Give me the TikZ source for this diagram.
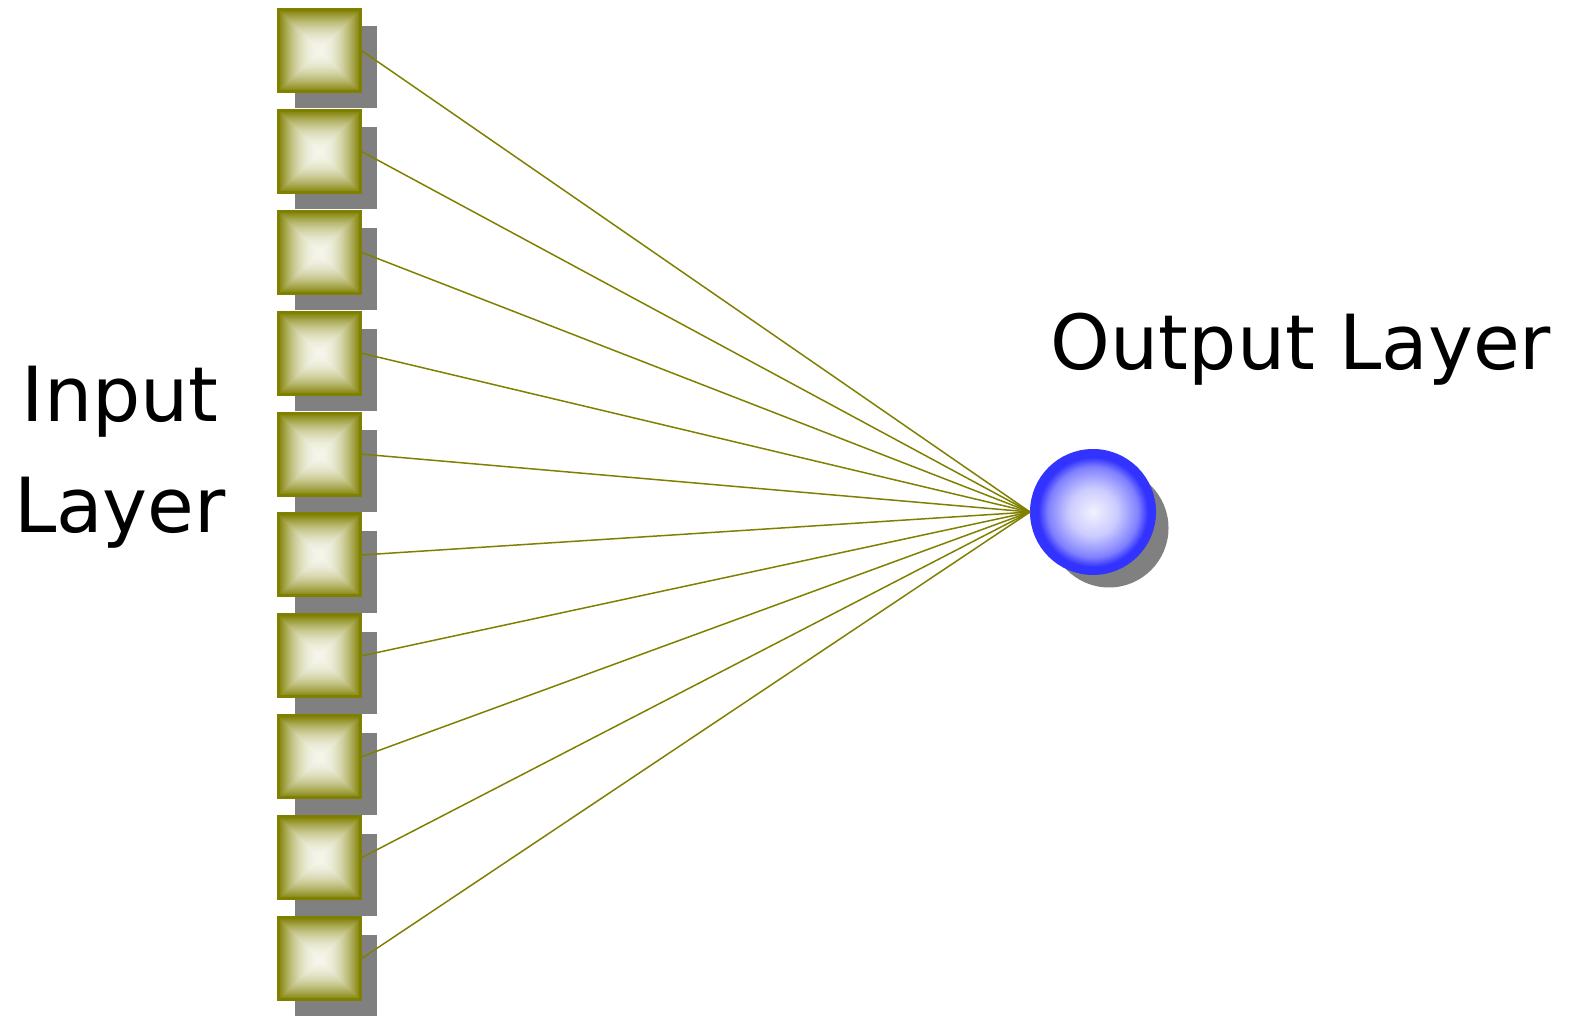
\documentclass[tikz,border=0pt]{standalone}
\usepackage{fontspec}
\setmainfont{DejaVu Sans}
\usetikzlibrary{shadows}

\definecolor{wireolive}{RGB}{128,128,0}
\definecolor{ballblue}{RGB}{51,51,255}
\definecolor{ballcore}{RGB}{242,242,255}
\definecolor{shadowgray}{RGB}{128,128,128}

% light centre fading out to olive towards all four sides
% (the path box is the inner +-25bp of the shading)
\pgfdeclarefunctionalshading{boxshade}{\pgfpoint{-50bp}{-50bp}}{\pgfpoint{50bp}{50bp}}{}{
  abs exch abs 2 copy gt {pop} {exch pop} ifelse
  25 div dup 1 gt {pop 1} if
  dup mul
  dup 0.46 mul neg 0.96 add exch
  dup 0.46 mul neg 0.96 add exch
  0.92 mul neg 0.92 add
}
\pgfdeclareradialshading{ballshade}{\pgfpoint{0bp}{0bp}}{color(0bp)=(ballcore); color(10bp)=(ballcore!80!ballblue); color(19bp)=(ballcore!40!ballblue); color(23bp)=(ballblue); color(50bp)=(ballblue)}

\tikzset{
  unit/.style={draw=wireolive, line width=3pt, minimum size=82pt, inner sep=0pt, shading=boxshade,
    drop shadow={shadow xshift=17pt, shadow yshift=-17pt, fill=shadowgray, opacity=1}},
  outunit/.style={circle, draw=ballblue, line width=7pt, minimum size=119pt, inner sep=0pt, shading=ballshade,
    drop shadow={shadow xshift=16pt, shadow yshift=-16pt, fill=shadowgray, opacity=1}},
  wire/.style={draw=wireolive, line width=1.5pt},
  lbl/.style={font=\fontsize{76}{111}\selectfont, inner sep=0pt}
}

\begin{document}
\begin{tikzpicture}[x=1pt,y=1pt]
\useasboundingbox (0,0) rectangle (1578,1015);

\node[unit] (in1) at (319,964.5) {};
\node[unit] (in2) at (319,863.6) {};
\node[unit] (in3) at (319,762.7) {};
\node[unit] (in4) at (319,661.8) {};
\node[unit] (in5) at (319,560.9) {};
\node[unit] (in6) at (319,460.0) {};
\node[unit] (in7) at (319,359.1) {};
\node[unit] (in8) at (319,258.2) {};
\node[unit] (in9) at (319,157.3) {};
\node[unit] (in10) at (319,56.4) {};

\node[outunit] (out) at (1093,503) {};

\draw[wire] (in1.east) -- (out.west);
\draw[wire] (in2.east) -- (out.west);
\draw[wire] (in3.east) -- (out.west);
\draw[wire] (in4.east) -- (out.west);
\draw[wire] (in5.east) -- (out.west);
\draw[wire] (in6.east) -- (out.west);
\draw[wire] (in7.east) -- (out.west);
\draw[wire] (in8.east) -- (out.west);
\draw[wire] (in9.east) -- (out.west);
\draw[wire] (in10.east) -- (out.west);

% base of a two-line node sits on its last line
\node[lbl, align=center, anchor=base] (inlabel) at (120,482) {Input\\Layer};
\node[lbl, anchor=base] (outlabel) at (1301,645) {Output Layer};
\end{tikzpicture}
\end{document}
